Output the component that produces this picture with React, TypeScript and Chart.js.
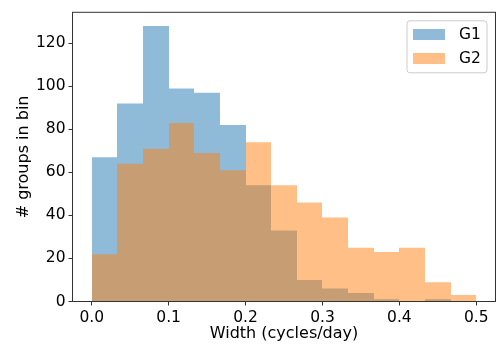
import React, { useEffect, useRef } from "react";
import { Chart, registerables } from "chart.js";

Chart.register(...registerables);

// Histogram bin edges (15 bins from 0 to 0.5 cycles/day)
const BIN_EDGES = [
  0, 0.033333333, 0.066666667, 0.1, 0.133333333, 0.166666667, 0.2, 0.233333333,
  0.266666667, 0.3, 0.333333333, 0.366666667, 0.4, 0.433333333, 0.466666667, 0.5,
];
const SERIES_LABELS = ["G1", "G2"];
const G1_COUNTS = [67, 92, 128, 99, 97, 82, 54, 33, 10, 6, 4, 1, 0, 1, 0];
const G2_COUNTS = [22, 64, 71, 83, 69, 61, 74, 54, 46, 39, 25, 23, 25, 9, 3];
const X_TICKS = [0, 0.1, 0.2, 0.3, 0.4, 0.5];
const Y_TICKS = [0, 20, 40, 60, 80, 100, 120];
const X_TITLE = "Width (cycles/day)";
const Y_TITLE = "# groups in bin";

const COLORS = ["rgba(31,119,180,0.5)", "rgba(255,127,14,0.5)"];
const FONT = "'DejaVu Sans', sans-serif";

function toPoints(counts: number[]) {
  return counts.map((c, i) => ({ x: (BIN_EDGES[i] + BIN_EDGES[i + 1]) / 2, y: c }));
}

// Snap bar edges to whole pixels so adjacent bins meet without seams
const snapPlugin = {
  id: "snapBars",
  afterDatasetsUpdate(chart: any) {
    chart.data.datasets.forEach((_: any, di: number) => {
      const meta = chart.getDatasetMeta(di);
      meta.data.forEach((el: any) => {
        const l = Math.round(el.x - el.width / 2);
        const r = Math.round(el.x + el.width / 2);
        el.x = (l + r) / 2;
        el.width = r - l;
        el.base = Math.round(el.base);
      });
    });
  },
};

const spinePlugin = {
  id: "spines",
  afterDatasetsDraw(chart: any) {
    const { ctx, chartArea } = chart;
    ctx.save();
    ctx.strokeStyle = "#333";
    ctx.lineWidth = 1;
    ctx.strokeRect(chartArea.left, chartArea.top, chartArea.right - chartArea.left, chartArea.bottom - chartArea.top);
    ctx.restore();
  },
};

const legendPlugin = {
  id: "mplLegend",
  afterDraw(chart: any) {
    const { ctx, chartArea } = chart;
    const w = 80;
    const h = 52;
    const x = chartArea.right - 8.5 - w;
    const y = chartArea.top + 8.5;
    ctx.save();
    ctx.beginPath();
    const r = 3;
    ctx.moveTo(x + r, y);
    ctx.lineTo(x + w - r, y);
    ctx.arcTo(x + w, y, x + w, y + r, r);
    ctx.lineTo(x + w, y + h - r);
    ctx.arcTo(x + w, y + h, x + w - r, y + h, r);
    ctx.lineTo(x + r, y + h);
    ctx.arcTo(x, y + h, x, y + h - r, r);
    ctx.lineTo(x, y + r);
    ctx.arcTo(x, y, x + r, y, r);
    ctx.closePath();
    ctx.fillStyle = "rgba(255,255,255,0.8)";
    ctx.fill();
    ctx.strokeStyle = "#cccccc";
    ctx.lineWidth = 1;
    ctx.stroke();
    ctx.font = `15.5px ${FONT}`;
    ctx.textBaseline = "middle";
    ctx.textAlign = "left";
    SERIES_LABELS.forEach((label, i) => {
      const py = y + 8.5 + i * 23.5;
      ctx.fillStyle = COLORS[i];
      ctx.fillRect(Math.round(x + 6), Math.round(py), 32, 11);
      ctx.fillStyle = "#000";
      ctx.fillText(label, x + 52, py + 6);
    });
    ctx.restore();
  },
};

export default function App() {
  const canvasRef = useRef<HTMLCanvasElement | null>(null);

  useEffect(() => {
    if (!canvasRef.current) return;
    const common = {
      borderWidth: 0,
      grouped: false,
      barPercentage: 1,
      categoryPercentage: 1,
      inflateAmount: 0,
    };
    const chart = new Chart(canvasRef.current, {
      type: "bar",
      data: {
        datasets: [
          { ...common, label: SERIES_LABELS[0], data: toPoints(G1_COUNTS), backgroundColor: COLORS[0], order: 2 } as any,
          { ...common, label: SERIES_LABELS[1], data: toPoints(G2_COUNTS), backgroundColor: COLORS[1], order: 1 } as any,
        ],
      },
      options: {
        animation: false,
        responsive: true,
        maintainAspectRatio: false,
        layout: { padding: { top: 2.5, right: 7.5, left: 0, bottom: 0 } },
        plugins: { legend: { display: false }, tooltip: { enabled: false } },
        scales: {
          x: {
            type: "linear",
            min: -0.025,
            max: 0.525,
            offset: false,
            afterFit: (s: any) => {
              s.height = 47.5;
            },
            afterBuildTicks: (s: any) => {
              s.ticks = X_TICKS.map((v) => ({ value: v }));
            },
            ticks: {
              callback: (v: any) => Number(v).toFixed(1),
              font: { family: FONT, size: 15.5 },
              color: "#000",
              padding: 3,
              maxRotation: 0,
              autoSkip: false,
            },
            grid: {
              display: true,
              offset: false,
              drawOnChartArea: false,
              drawTicks: true,
              tickLength: 4,
              color: "#333",
              lineWidth: 1,
            },
            border: { display: true, color: "#333", width: 1 },
            title: {
              display: true,
              text: X_TITLE,
              font: { family: FONT, size: 16 },
              color: "#000",
              padding: { top: 0, bottom: 5.9 },
            },
          },
          y: {
            type: "linear",
            min: 0,
            max: 134.4,
            afterFit: (s: any) => {
              s.width = 72.5;
            },
            afterBuildTicks: (s: any) => {
              s.ticks = Y_TICKS.map((v) => ({ value: v }));
            },
            ticks: {
              callback: (v: any) => String(v),
              font: { family: FONT, size: 15.5 },
              color: "#000",
              padding: 3,
              autoSkip: false,
            },
            grid: {
              display: true,
              offset: false,
              drawOnChartArea: false,
              drawTicks: true,
              tickLength: 4,
              color: "#333",
              lineWidth: 1,
            },
            border: { display: true, color: "#333", width: 1 },
            title: {
              display: true,
              text: Y_TITLE,
              font: { family: FONT, size: 16 },
              color: "#000",
              padding: { top: 14.4, bottom: 0 },
            },
          },
        },
      },
      plugins: [snapPlugin, spinePlugin, legendPlugin],
    } as any);
    return () => chart.destroy();
  }, []);

  return (
    <div style={{ position: "fixed", left: 0, top: 0, width: 503, height: 349, background: "#fff" }}>
      <canvas ref={canvasRef} />
    </div>
  );
}
